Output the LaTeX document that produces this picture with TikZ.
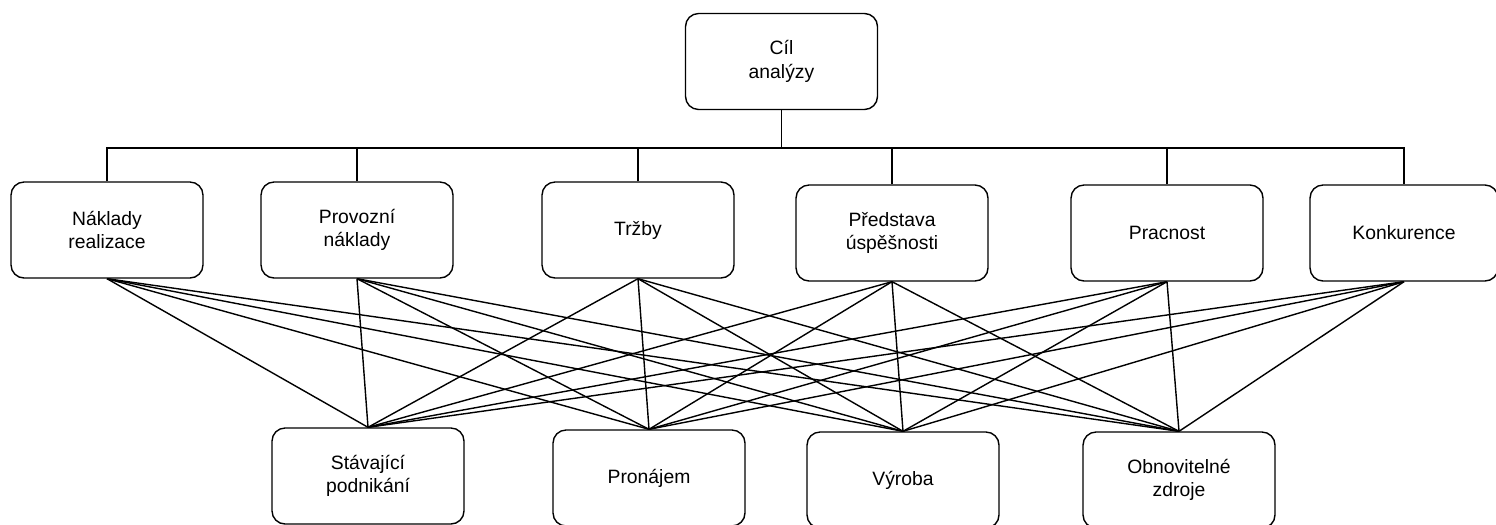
\documentclass[tikz,border=0pt]{standalone}
\usepackage{fontspec}
\setmainfont{Liberation Sans}
\usepackage{tikz}
\usetikzlibrary{positioning}

\begin{document}
\begin{tikzpicture}[
    x=0.02cm, y=-0.02cm,
    box/.style={rectangle, draw, rounded corners=0.26cm, line width=0.8pt,
        minimum width=3.84cm, minimum height=1.92cm, align=center,
        font=\fontsize{11}{13.4}\selectfont},
    link/.style={line width=0.8pt}
]
    \useasboundingbox (0,0) rectangle (1496,524);

    % goal
    \node[box] (goal) at (781.5,61.5) {Cíl\\analýzy};

    % criteria
    \node[box] (cost) at (107,230) {Náklady\\realizace};
    \node[box] (opcost) at (357,230) {Provozní\\náklady};
    \node[box] (sales) at (638,230) {Tržby};
    \node[box] (success) at (892,233) {Představa\\úspěšnosti};
    \node[box] (effort) at (1167,233) {Pracnost};
    \node[box, minimum width=3.76cm] (compet) at (1404,233) {Konkurence};

    % alternatives
    \node[box] (existing) at (368,476) {Stávající\\podnikání};
    \node[box] (rent) at (649,478) {Pronájem};
    \node[box] (production) at (903,480) {Výroba};
    \node[box] (renewable) at (1179,480) {Obnovitelné\\zdroje};

    \coordinate (bus) at (781.5,148);
    \draw[link] (goal.south) -- (bus);
    \foreach \crit in {cost,opcost,sales,success,effort,compet}
        \draw[link] (\crit.north) |- (bus);

    \foreach \crit in {cost,opcost,sales,success,effort,compet}
        \foreach \alt in {existing,rent,production,renewable}
            \draw[link] (\crit.south) -- (\alt.north);
\end{tikzpicture}
\end{document}
